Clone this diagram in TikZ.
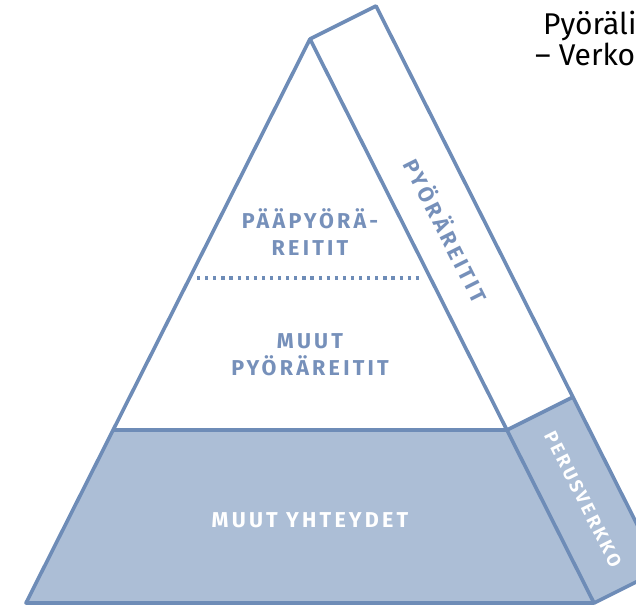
\documentclass[tikz,border=0pt]{standalone}
\usepackage{fontspec}
\setmainfont{Fira Sans}
\newfontfamily\labelfont[LetterSpace=15]{Fira Sans}
\newfontfamily\titlefont{Fira Sans}
\usetikzlibrary{calc}
\definecolor{pyrline}{RGB}{110,140,183}
\definecolor{pyrfill}{RGB}{172,190,214}
\definecolor{pyrtext}{RGB}{118,144,186}

\begin{document}
\begin{tikzpicture}[x=1pt, y=-1pt,
    edge/.style={draw=pyrline, line width=3.6pt, line join=round},
    lbl/.style={font=\labelfont\bfseries\fontsize{21.5}{27}\selectfont,
                text=pyrtext, align=center, inner sep=0pt},
    wlbl/.style={lbl, text=white},
    dots/.style={pyrline, line width=3.2pt, dash pattern=on 3.2pt off 4.9pt},
    ttl/.style={anchor=base west, font=\titlefont\fontsize{30}{36}\selectfont,
                inner sep=0pt},
]
\useasboundingbox (0,0) rectangle (636,607);
\clip (0,0) rectangle (636,607);

% ===== Corner points =====
\coordinate (apex) at (310,39);
\coordinate (bl) at (26,603);
\coordinate (br) at (594,603);
\coordinate (tl) at (113,430);
\coordinate (tr) at (507,430);
\coordinate (off) at (66,-33);
\coordinate (dl) at (197,278);
\coordinate (dr) at (423,278);

% ===== Filled parts =====
\fill[pyrfill] (tl) -- (tr) -- (br) -- (bl) -- cycle;
\fill[pyrfill] (tr) -- ($(tr)+(off)$) -- ($(br)+(off)$) -- (br) -- cycle;

% ===== Outlines =====
\draw[edge] (bl) -- (apex) -- (br) -- cycle;
\draw[edge] (tl) -- (tr);
\draw[edge] (apex) -- ($(apex)+(off)$) -- ($(br)+(off)$) -- (br);
\draw[edge] (tr) -- ($(tr)+(off)$);
\draw[dots] (dl) -- (dr);

% ===== Labels =====
\node[lbl] (main) at (310,232) {PÄÄPYÖRÄ-\\REITIT};
\node[lbl] (other) at (310,355) {MUUT\\PYÖRÄREITIT};
\node[wlbl] (links) at (310,520) {MUUT YHTEYDET};
\node[lbl, rotate=-63.3] (routes) at (447,230) {PYÖRÄREITIT};
\node[wlbl, rotate=-63.3, font=\labelfont\bfseries\fontsize{18.5}{20}\selectfont]
     (basenet) at (583,499) {PERUSVERKKO};

% ===== Title =====
\node[ttl] (title1) at (543,35) {Pyöräli};
\node[ttl] (title2) at (535,66) {– Verko};

\end{tikzpicture}
\end{document}
